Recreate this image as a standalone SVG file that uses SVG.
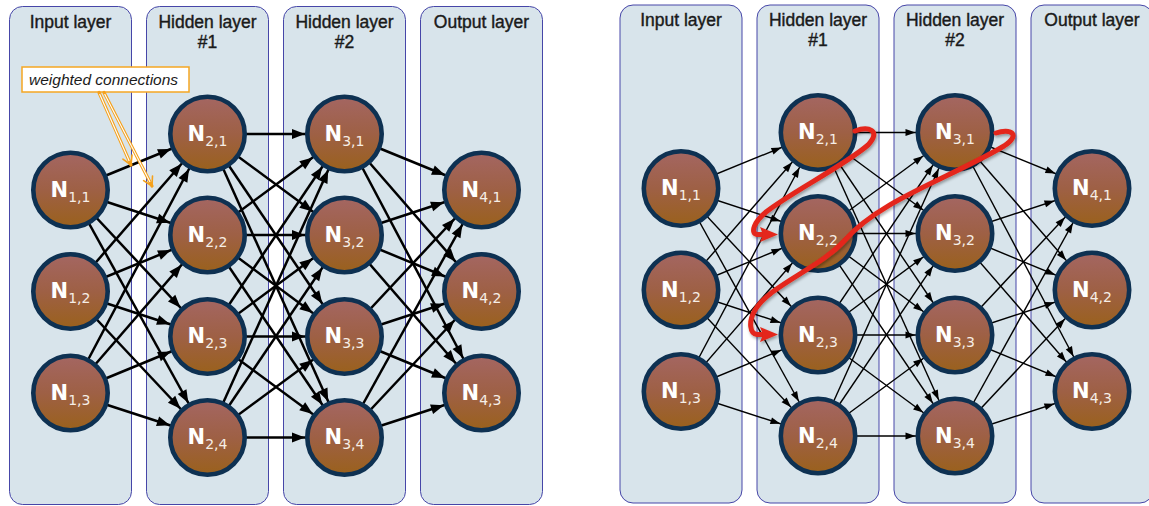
<svg xmlns="http://www.w3.org/2000/svg" width="1149" height="506" viewBox="0 0 1149 506">
  <defs>
    <style>
      .layer { fill: #d8e4eb; stroke: #4646a8; stroke-width: 1; }
      .head { font-family: "Liberation Sans", Arial, sans-serif; font-size: 17.5px; fill: #1a1a1a; text-anchor: middle; stroke: #1a1a1a; stroke-width: 0.4; }
      .node circle { fill: url(#nodeFill); stroke: #0e3152; stroke-width: 4.6; }
      .node text { font-family: "DejaVu Sans", Verdana, sans-serif; fill: #ffffff; text-anchor: middle; }
      .node .N { font-size: 21px; font-weight: bold; }
      .node .sub { font-size: 14px; fill: #f6eee6; }
      .edges-bold line { stroke: #000; stroke-width: 2.5; marker-end: url(#headBold); }
      .edges-thin line { stroke: #000; stroke-width: 1.4; marker-end: url(#headThin); }
      .note { font-family: "Liberation Sans", Arial, sans-serif; font-style: italic; font-size: 15.5px; fill: #1a1a1a; }
      .flow { fill: none; stroke: #e4261a; stroke-width: 5; stroke-linecap: round; stroke-linejoin: round; marker-end: url(#headRed); }
    </style>
    <linearGradient id="nodeFill" x1="0" y1="0" x2="0" y2="1">
      <stop offset="0" stop-color="#a46662"/>
      <stop offset="0.5" stop-color="#9e6045"/>
      <stop offset="1" stop-color="#9a611c"/>
    </linearGradient>
    <!-- arrowheads sit 39.5px back from the line end, i.e. on the edge of the target node -->
    <marker id="headBold" markerUnits="userSpaceOnUse" markerWidth="14" markerHeight="11" refX="52.5" refY="5" orient="auto" overflow="visible">
      <path d="M0,0 L13,5 L0,10 z" fill="#000"/>
    </marker>
    <marker id="headThin" markerUnits="userSpaceOnUse" markerWidth="11" markerHeight="8" refX="49.5" refY="3.5" orient="auto" overflow="visible">
      <path d="M0,0 L10,3.5 L0,7 z" fill="#000"/>
    </marker>
    <marker id="headRed" markerUnits="userSpaceOnUse" markerWidth="19" markerHeight="15" refX="2" refY="7.5" orient="auto" overflow="visible">
      <path d="M0,0 L18,7.5 L0,15 L3,7.5 z" fill="#e4261a"/>
    </marker>
    <filter id="shadow" x="-10%" y="-10%" width="120%" height="120%">
      <feDropShadow dx="1" dy="2" stdDeviation="1.5" flood-color="#000" flood-opacity="0.35"/>
    </filter>
  </defs>

  <!-- ===== Left network: fully connected, weighted connections ===== -->
  <g id="left-net">
    <g id="left-layers">
      <rect class="layer" x="9.5" y="6.5" width="122" height="498" rx="13"/>
      <rect class="layer" x="146.5" y="6.5" width="122" height="498" rx="13"/>
      <rect class="layer" x="283.5" y="6.5" width="122" height="498" rx="13"/>
      <rect class="layer" x="420.5" y="6.5" width="122" height="498" rx="13"/>
      <text class="head" x="70.5" y="28">Input layer</text>
      <text class="head" x="207.5" y="28">Hidden layer</text>
      <text class="head" x="207.5" y="48">#1</text>
      <text class="head" x="344.5" y="28">Hidden layer</text>
      <text class="head" x="344.5" y="48">#2</text>
      <text class="head" x="481.5" y="28">Output layer</text>
    </g>

    <g id="left-connectors" class="edges-bold">
      <line x1="70.5" y1="190" x2="207.5" y2="134"/>
      <line x1="70.5" y1="190" x2="207.5" y2="235"/>
      <line x1="70.5" y1="190" x2="207.5" y2="336.5"/>
      <line x1="70.5" y1="190" x2="207.5" y2="437.5"/>
      <line x1="70.5" y1="291.5" x2="207.5" y2="134"/>
      <line x1="70.5" y1="291.5" x2="207.5" y2="235"/>
      <line x1="70.5" y1="291.5" x2="207.5" y2="336.5"/>
      <line x1="70.5" y1="291.5" x2="207.5" y2="437.5"/>
      <line x1="70.5" y1="393" x2="207.5" y2="134"/>
      <line x1="70.5" y1="393" x2="207.5" y2="235"/>
      <line x1="70.5" y1="393" x2="207.5" y2="336.5"/>
      <line x1="70.5" y1="393" x2="207.5" y2="437.5"/>

      <line x1="207.5" y1="134" x2="344.5" y2="134"/>
      <line x1="207.5" y1="134" x2="344.5" y2="235"/>
      <line x1="207.5" y1="134" x2="344.5" y2="336.5"/>
      <line x1="207.5" y1="134" x2="344.5" y2="437.5"/>
      <line x1="207.5" y1="235" x2="344.5" y2="134"/>
      <line x1="207.5" y1="235" x2="344.5" y2="235"/>
      <line x1="207.5" y1="235" x2="344.5" y2="336.5"/>
      <line x1="207.5" y1="235" x2="344.5" y2="437.5"/>
      <line x1="207.5" y1="336.5" x2="344.5" y2="134"/>
      <line x1="207.5" y1="336.5" x2="344.5" y2="235"/>
      <line x1="207.5" y1="336.5" x2="344.5" y2="336.5"/>
      <line x1="207.5" y1="336.5" x2="344.5" y2="437.5"/>
      <line x1="207.5" y1="437.5" x2="344.5" y2="134"/>
      <line x1="207.5" y1="437.5" x2="344.5" y2="235"/>
      <line x1="207.5" y1="437.5" x2="344.5" y2="336.5"/>
      <line x1="207.5" y1="437.5" x2="344.5" y2="437.5"/>

      <line x1="344.5" y1="134" x2="481.5" y2="190"/>
      <line x1="344.5" y1="134" x2="481.5" y2="291.5"/>
      <line x1="344.5" y1="134" x2="481.5" y2="393"/>
      <line x1="344.5" y1="235" x2="481.5" y2="190"/>
      <line x1="344.5" y1="235" x2="481.5" y2="291.5"/>
      <line x1="344.5" y1="235" x2="481.5" y2="393"/>
      <line x1="344.5" y1="336.5" x2="481.5" y2="190"/>
      <line x1="344.5" y1="336.5" x2="481.5" y2="291.5"/>
      <line x1="344.5" y1="336.5" x2="481.5" y2="393"/>
      <line x1="344.5" y1="437.5" x2="481.5" y2="190"/>
      <line x1="344.5" y1="437.5" x2="481.5" y2="291.5"/>
      <line x1="344.5" y1="437.5" x2="481.5" y2="393"/>
    </g>

    <g id="l-n11" class="node"><circle cx="70.5" cy="190" r="37.2"/><text x="70.5" y="196.5"><tspan class="N">N</tspan><tspan class="sub" dy="5">1,1</tspan></text></g>
    <g id="l-n12" class="node"><circle cx="70.5" cy="291.5" r="37.2"/><text x="70.5" y="298"><tspan class="N">N</tspan><tspan class="sub" dy="5">1,2</tspan></text></g>
    <g id="l-n13" class="node"><circle cx="70.5" cy="393" r="37.2"/><text x="70.5" y="399.5"><tspan class="N">N</tspan><tspan class="sub" dy="5">1,3</tspan></text></g>
    <g id="l-n21" class="node"><circle cx="207.5" cy="134" r="37.2"/><text x="207.5" y="140.5"><tspan class="N">N</tspan><tspan class="sub" dy="5">2,1</tspan></text></g>
    <g id="l-n22" class="node"><circle cx="207.5" cy="235" r="37.2"/><text x="207.5" y="241.5"><tspan class="N">N</tspan><tspan class="sub" dy="5">2,2</tspan></text></g>
    <g id="l-n23" class="node"><circle cx="207.5" cy="336.5" r="37.2"/><text x="207.5" y="343"><tspan class="N">N</tspan><tspan class="sub" dy="5">2,3</tspan></text></g>
    <g id="l-n24" class="node"><circle cx="207.5" cy="437.5" r="37.2"/><text x="207.5" y="444"><tspan class="N">N</tspan><tspan class="sub" dy="5">2,4</tspan></text></g>
    <g id="l-n31" class="node"><circle cx="344.5" cy="134" r="37.2"/><text x="344.5" y="140.5"><tspan class="N">N</tspan><tspan class="sub" dy="5">3,1</tspan></text></g>
    <g id="l-n32" class="node"><circle cx="344.5" cy="235" r="37.2"/><text x="344.5" y="241.5"><tspan class="N">N</tspan><tspan class="sub" dy="5">3,2</tspan></text></g>
    <g id="l-n33" class="node"><circle cx="344.5" cy="336.5" r="37.2"/><text x="344.5" y="343"><tspan class="N">N</tspan><tspan class="sub" dy="5">3,3</tspan></text></g>
    <g id="l-n34" class="node"><circle cx="344.5" cy="437.5" r="37.2"/><text x="344.5" y="444"><tspan class="N">N</tspan><tspan class="sub" dy="5">3,4</tspan></text></g>
    <g id="l-n41" class="node"><circle cx="481.5" cy="190" r="37.2"/><text x="481.5" y="196.5"><tspan class="N">N</tspan><tspan class="sub" dy="5">4,1</tspan></text></g>
    <g id="l-n42" class="node"><circle cx="481.5" cy="291.5" r="37.2"/><text x="481.5" y="298"><tspan class="N">N</tspan><tspan class="sub" dy="5">4,2</tspan></text></g>
    <g id="l-n43" class="node"><circle cx="481.5" cy="393" r="37.2"/><text x="481.5" y="399.5"><tspan class="N">N</tspan><tspan class="sub" dy="5">4,3</tspan></text></g>

    <!-- callout: hollow orange pointers with open heads -->
    <g id="weights-callout">
      <rect x="22" y="67" width="167" height="25" fill="#ffffff" stroke="#f5a623" stroke-width="1.5"/>
      <text class="note" x="29" y="85">weighted connections</text>
      <g stroke="#f5a11c" fill="none" stroke-linecap="round" stroke-linejoin="round">
        <line x1="99" y1="92.5" x2="131" y2="165" stroke-width="3.2"/>
        <line x1="104" y1="92.5" x2="152" y2="186" stroke-width="3.2"/>
        <polyline points="132,155 131,165 122.9,159.1" stroke-width="1.6"/>
        <polyline points="152.5,176 152,186 143.6,180.6" stroke-width="1.6"/>
      </g>
      <g stroke="#ffffff" stroke-width="1.1" fill="none">
        <line x1="99.6" y1="94" x2="129.2" y2="161"/>
        <line x1="104.6" y1="94" x2="150" y2="182"/>
      </g>
    </g>
  </g>

  <!-- ===== Right network: same topology, with the order of evaluation ===== -->
  <g id="right-net" transform="translate(610.5,-1.5)">
    <g id="right-layers">
      <rect class="layer" x="9.5" y="6.5" width="122" height="498" rx="13"/>
      <rect class="layer" x="146.5" y="6.5" width="122" height="498" rx="13"/>
      <rect class="layer" x="283.5" y="6.5" width="122" height="498" rx="13"/>
      <rect class="layer" x="420.5" y="6.5" width="122" height="498" rx="13"/>
      <text class="head" x="70.5" y="27.5">Input layer</text>
      <text class="head" x="207.5" y="27.5">Hidden layer</text>
      <text class="head" x="207.5" y="47.5">#1</text>
      <text class="head" x="344.5" y="27.5">Hidden layer</text>
      <text class="head" x="344.5" y="47.5">#2</text>
      <text class="head" x="481.5" y="27.5">Output layer</text>
    </g>

    <g id="right-connectors" class="edges-thin">
      <line x1="70.5" y1="190" x2="207.5" y2="134"/>
      <line x1="70.5" y1="190" x2="207.5" y2="235"/>
      <line x1="70.5" y1="190" x2="207.5" y2="336.5"/>
      <line x1="70.5" y1="190" x2="207.5" y2="437.5"/>
      <line x1="70.5" y1="291.5" x2="207.5" y2="134"/>
      <line x1="70.5" y1="291.5" x2="207.5" y2="235"/>
      <line x1="70.5" y1="291.5" x2="207.5" y2="336.5"/>
      <line x1="70.5" y1="291.5" x2="207.5" y2="437.5"/>
      <line x1="70.5" y1="393" x2="207.5" y2="134"/>
      <line x1="70.5" y1="393" x2="207.5" y2="235"/>
      <line x1="70.5" y1="393" x2="207.5" y2="336.5"/>
      <line x1="70.5" y1="393" x2="207.5" y2="437.5"/>

      <line x1="207.5" y1="134" x2="344.5" y2="134"/>
      <line x1="207.5" y1="134" x2="344.5" y2="235"/>
      <line x1="207.5" y1="134" x2="344.5" y2="336.5"/>
      <line x1="207.5" y1="134" x2="344.5" y2="437.5"/>
      <line x1="207.5" y1="235" x2="344.5" y2="134"/>
      <line x1="207.5" y1="235" x2="344.5" y2="235"/>
      <line x1="207.5" y1="235" x2="344.5" y2="336.5"/>
      <line x1="207.5" y1="235" x2="344.5" y2="437.5"/>
      <line x1="207.5" y1="336.5" x2="344.5" y2="134"/>
      <line x1="207.5" y1="336.5" x2="344.5" y2="235"/>
      <line x1="207.5" y1="336.5" x2="344.5" y2="336.5"/>
      <line x1="207.5" y1="336.5" x2="344.5" y2="437.5"/>
      <line x1="207.5" y1="437.5" x2="344.5" y2="134"/>
      <line x1="207.5" y1="437.5" x2="344.5" y2="235"/>
      <line x1="207.5" y1="437.5" x2="344.5" y2="336.5"/>
      <line x1="207.5" y1="437.5" x2="344.5" y2="437.5"/>

      <line x1="344.5" y1="134" x2="481.5" y2="190"/>
      <line x1="344.5" y1="134" x2="481.5" y2="291.5"/>
      <line x1="344.5" y1="134" x2="481.5" y2="393"/>
      <line x1="344.5" y1="235" x2="481.5" y2="190"/>
      <line x1="344.5" y1="235" x2="481.5" y2="291.5"/>
      <line x1="344.5" y1="235" x2="481.5" y2="393"/>
      <line x1="344.5" y1="336.5" x2="481.5" y2="190"/>
      <line x1="344.5" y1="336.5" x2="481.5" y2="291.5"/>
      <line x1="344.5" y1="336.5" x2="481.5" y2="393"/>
      <line x1="344.5" y1="437.5" x2="481.5" y2="190"/>
      <line x1="344.5" y1="437.5" x2="481.5" y2="291.5"/>
      <line x1="344.5" y1="437.5" x2="481.5" y2="393"/>
    </g>

    <g id="r-n11" class="node"><circle cx="70.5" cy="190" r="37.2"/><text x="70.5" y="196.5"><tspan class="N">N</tspan><tspan class="sub" dy="5">1,1</tspan></text></g>
    <g id="r-n12" class="node"><circle cx="70.5" cy="291.5" r="37.2"/><text x="70.5" y="298"><tspan class="N">N</tspan><tspan class="sub" dy="5">1,2</tspan></text></g>
    <g id="r-n13" class="node"><circle cx="70.5" cy="393" r="37.2"/><text x="70.5" y="399.5"><tspan class="N">N</tspan><tspan class="sub" dy="5">1,3</tspan></text></g>
    <g id="r-n21" class="node"><circle cx="207.5" cy="134" r="37.2"/><text x="207.5" y="140.5"><tspan class="N">N</tspan><tspan class="sub" dy="5">2,1</tspan></text></g>
    <g id="r-n22" class="node"><circle cx="207.5" cy="235" r="37.2"/><text x="207.5" y="241.5"><tspan class="N">N</tspan><tspan class="sub" dy="5">2,2</tspan></text></g>
    <g id="r-n23" class="node"><circle cx="207.5" cy="336.5" r="37.2"/><text x="207.5" y="343"><tspan class="N">N</tspan><tspan class="sub" dy="5">2,3</tspan></text></g>
    <g id="r-n24" class="node"><circle cx="207.5" cy="437.5" r="37.2"/><text x="207.5" y="444"><tspan class="N">N</tspan><tspan class="sub" dy="5">2,4</tspan></text></g>
    <g id="r-n31" class="node"><circle cx="344.5" cy="134" r="37.2"/><text x="344.5" y="140.5"><tspan class="N">N</tspan><tspan class="sub" dy="5">3,1</tspan></text></g>
    <g id="r-n32" class="node"><circle cx="344.5" cy="235" r="37.2"/><text x="344.5" y="241.5"><tspan class="N">N</tspan><tspan class="sub" dy="5">3,2</tspan></text></g>
    <g id="r-n33" class="node"><circle cx="344.5" cy="336.5" r="37.2"/><text x="344.5" y="343"><tspan class="N">N</tspan><tspan class="sub" dy="5">3,3</tspan></text></g>
    <g id="r-n34" class="node"><circle cx="344.5" cy="437.5" r="37.2"/><text x="344.5" y="444"><tspan class="N">N</tspan><tspan class="sub" dy="5">3,4</tspan></text></g>
    <g id="r-n41" class="node"><circle cx="481.5" cy="190" r="37.2"/><text x="481.5" y="196.5"><tspan class="N">N</tspan><tspan class="sub" dy="5">4,1</tspan></text></g>
    <g id="r-n42" class="node"><circle cx="481.5" cy="291.5" r="37.2"/><text x="481.5" y="298"><tspan class="N">N</tspan><tspan class="sub" dy="5">4,2</tspan></text></g>
    <g id="r-n43" class="node"><circle cx="481.5" cy="393" r="37.2"/><text x="481.5" y="399.5"><tspan class="N">N</tspan><tspan class="sub" dy="5">4,3</tspan></text></g>
  </g>

  <!-- red sweep arrows: from the end of one row back to the start of the next -->
  <g id="eval-order" filter="url(#shadow)">
    <path class="flow" d="M855,131 C868,126 882,130 868,145 C845,165 790,193 766,212 C754,222 750,233 757,234.5 L762,234.5"/>
    <path class="flow" d="M996,133 C1010,128 1022,134 1004,146 C950,178 880,200 845,240 C820,268 770,285 755,310 C748,322 750,334 757,334.5 L762,334.5"/>
  </g>
</svg>
